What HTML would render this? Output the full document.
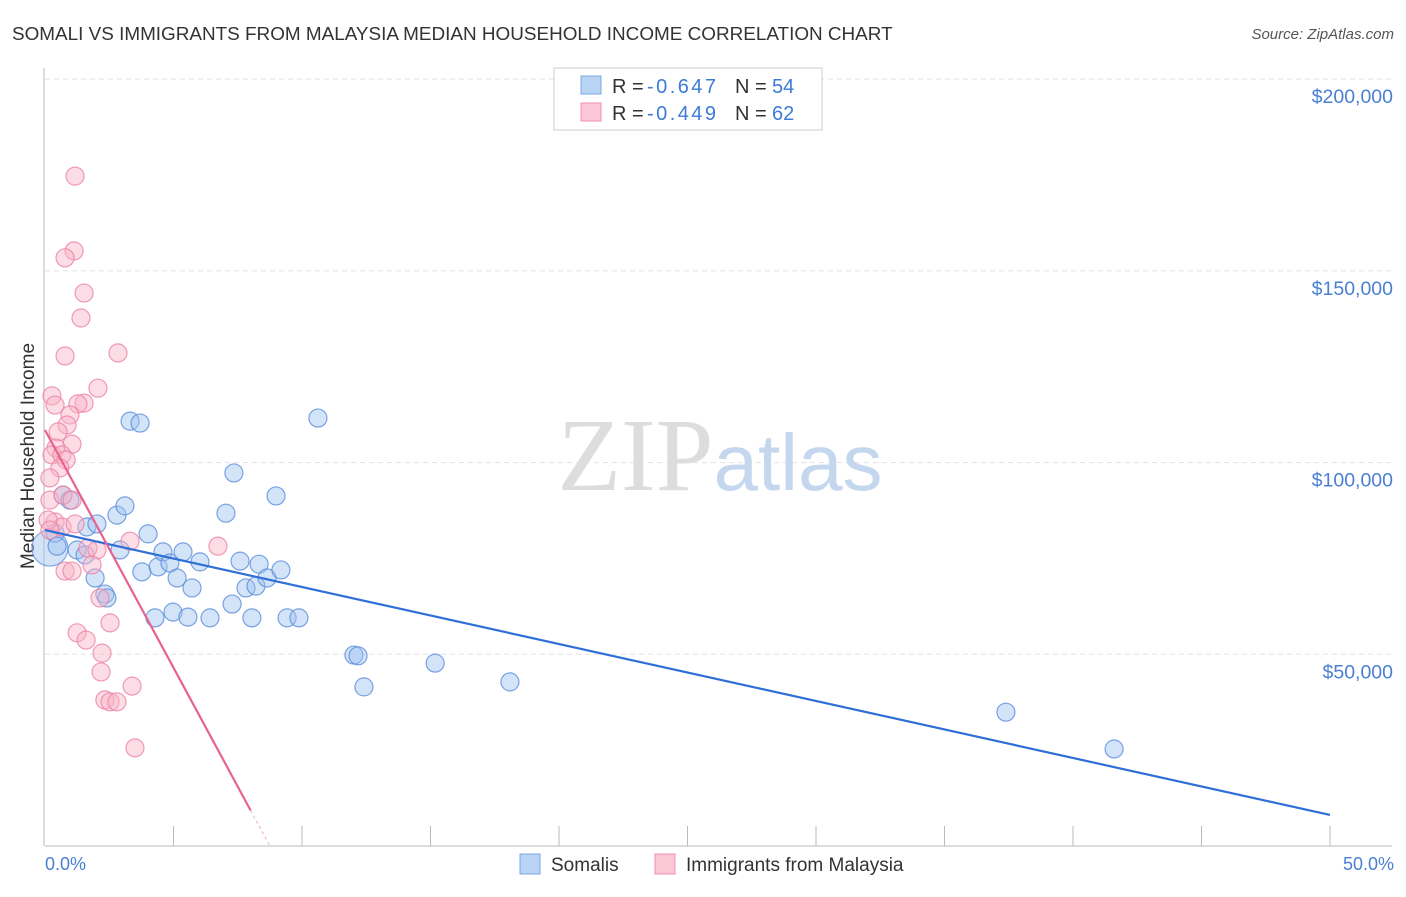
<!DOCTYPE html>
<html><head><meta charset="utf-8"><style>
body{margin:0;background:#fff;font-family:"Liberation Sans",sans-serif}
</style></head><body>
<svg id="chart" width="1406" height="892" xmlns="http://www.w3.org/2000/svg" font-family="Liberation Sans, sans-serif">
<text x="12" y="40" font-size="18.9" fill="#333">SOMALI VS IMMIGRANTS FROM MALAYSIA MEDIAN HOUSEHOLD INCOME CORRELATION CHART</text>
<text x="1394" y="39" font-size="15" fill="#555" font-style="italic" text-anchor="end">Source: ZipAtlas.com</text>
<g id="grid"></g>
<text x="720" y="490" font-size="104" text-anchor="middle" fill="#ddd" font-family="Liberation Serif, serif">ZIP<tspan fill="#c5d7ee" font-family="Liberation Sans, sans-serif" font-size="80">atlas</tspan></text>
<line x1="45" y1="846" x2="1392" y2="846" stroke="#bbb"/>
<line x1="44" y1="68" x2="44" y2="846" stroke="#bbb"/>
<text transform="translate(34,456) rotate(-90)" font-size="19" fill="#333" text-anchor="middle">Median Household Income</text>
<text x="45" y="870" font-size="18" fill="#4a7fd4">0.0%</text>
<text x="1394" y="870" font-size="18" fill="#4a7fd4" text-anchor="end">50.0%</text>
<g id="marks"></g>
<g>
<rect x="554" y="68" width="268" height="62" fill="#fff" stroke="#ccc"/>
<rect x="581" y="76" width="20" height="18" fill="#b9d3f5" stroke="#7aa7e6"/>
<rect x="581" y="103" width="20" height="18" fill="#fbc6d6" stroke="#f08fb0"/>
<text x="612" y="93" font-size="20" fill="#333">R = <tspan x="647" fill="#3d7bd8" textLength="69">-0.647</tspan><tspan x="735">N = </tspan><tspan x="772" fill="#3d7bd8">54</tspan></text>
<text x="612" y="120" font-size="20" fill="#333">R = <tspan x="647" fill="#3d7bd8" textLength="69">-0.449</tspan><tspan x="735">N = </tspan><tspan x="772" fill="#3d7bd8">62</tspan></text>
</g>
<g>
<rect x="520" y="854" width="20" height="20" fill="#b9d3f5" stroke="#7aa7e6"/>
<text x="551" y="871" font-size="19" fill="#333">Somalis</text>
<rect x="655" y="854" width="20" height="20" fill="#fbc6d6" stroke="#f08fb0"/>
<text x="686" y="871" font-size="19" fill="#333">Immigrants from Malaysia</text>
</g>
</svg>
<script>
const yTicks=[50000,100000,150000,200000];
const yTickLabels=["$50,000","$100,000","$150,000","$200,000"];
const xTicks=[5,10,15,20,25,30,35,40,45,50];
const blueX=[0.39,0.47,0.70,0.97,1.25,1.56,1.63,1.95,2.02,2.33,2.41,2.80,2.92,3.11,3.31,3.70,3.77,4.01,4.28,4.40,4.59,4.86,4.98,5.14,5.37,5.56,5.72,6.03,6.42,7.04,7.28,7.35,7.59,7.82,8.05,8.21,8.33,8.64,8.99,9.18,9.42,9.88,10.62,12.02,12.18,12.41,15.18,18.09,37.39,41.60];
const blueY=[81.6,78.2,91.5,90.2,77.2,75.9,83.2,69.9,84.0,65.7,64.7,86.3,77.2,88.7,110.8,110.3,71.5,81.4,59.5,72.8,76.7,73.8,61.0,69.9,76.7,59.7,67.3,74.1,59.5,86.8,63.1,97.3,74.3,67.3,59.5,67.8,73.5,69.9,91.3,72.0,59.5,59.5,111.6,49.8,49.6,41.5,47.7,42.8,34.9,25.3];
const pinkX=[1.17,1.13,0.78,1.52,1.40,0.78,2.84,2.06,0.27,0.39,1.52,1.28,0.97,0.86,0.51,1.05,0.43,0.27,0.66,0.82,0.58,0.19,0.19,0.70,1.05,0.39,0.66,1.17,1.67,2.02,3.31,6.73,1.83,0.78,1.05,2.14,2.53,1.25,1.60,2.22,2.18,2.33,2.53,2.80,3.39,3.50,0.12,0.19];
const pinkY=[174.7,155.2,153.4,144.2,137.7,127.8,128.6,119.4,117.4,115.0,115.5,115.3,112.4,109.8,108.0,104.8,103.8,102.0,102.0,100.7,98.6,96.0,90.2,91.5,90.2,84.5,83.2,84.0,77.7,77.2,79.5,78.2,73.3,71.7,71.7,64.7,58.2,55.6,53.7,50.3,45.4,38.1,37.6,37.6,41.7,25.6,85.0,82.4];
const blueLine=[82.4,8.1];   // income (k) at 0% and 50%
const pinkLine=[108.5,-12.4]; // intercept (k), slope per %
const NS="http://www.w3.org/2000/svg";
const X=p=>45+p*25.7;
const Y=v=>846-v*1000/260.8;
const grid=document.getElementById('grid'),marks=document.getElementById('marks');
function mk(tag,at,parent){const e=document.createElementNS(NS,tag);for(const k in at)e.setAttribute(k,at[k]);parent.appendChild(e);return e;}
yTicks.forEach((t,i)=>{
 const l=mk('line',{x1:45,x2:1392,y1:Y(t/1000),y2:Y(t/1000),stroke:'#e2e2e2','stroke-dasharray':'5,4'},grid);
 
 
 const tx=mk('text',{x:1393,y:Y(t/1000)+24,'font-size':19.5,fill:'#4a7fd4','text-anchor':'end'},grid);
 tx.textContent=yTickLabels[i];
 
 
});
xTicks.forEach(t=>{
 const l=mk('line',{x1:X(t),x2:X(t),y1:826,y2:846,stroke:'#bbb'},grid);
 
 
});
const big=mk('circle',{cx:X(0.19),cy:Y(77.7),r:18,fill:'rgba(160,195,240,0.45)',stroke:'rgba(90,140,220,0.7)','stroke-width':1.2},marks);


blueX.forEach((x,i)=>{
 const c=mk('circle',{cx:X(x),cy:Y(blueY[i]),r:9,fill:'rgba(160,195,240,0.45)',stroke:'rgba(90,140,220,0.8)','stroke-width':1.2},marks);
 
 
});
pinkX.forEach((x,i)=>{
 const c=mk('circle',{cx:X(x),cy:Y(pinkY[i]),r:9,fill:'rgba(248,180,200,0.45)',stroke:'rgba(236,130,165,0.8)','stroke-width':1.2},marks);
 
 
});
const bl=mk('line',{x1:X(0),y1:Y(blueLine[0]),x2:X(50),y2:Y(blueLine[1]),stroke:'#2f6fd6','stroke-width':2.2},marks);


const pEnd=8,pZero=-pinkLine[0]/pinkLine[1];
const pl=mk('line',{x1:X(0),y1:Y(pinkLine[0]),x2:X(pEnd),y2:Y(pinkLine[0]+pinkLine[1]*pEnd),stroke:'#e8628e','stroke-width':2.2},marks);


const pd=mk('line',{x1:X(pEnd),y1:Y(pinkLine[0]+pinkLine[1]*pEnd),x2:X(pZero),y2:Y(0),stroke:'#f0b8ca','stroke-width':1.2,'stroke-dasharray':'3,3'},marks);


</script>
</body></html>
